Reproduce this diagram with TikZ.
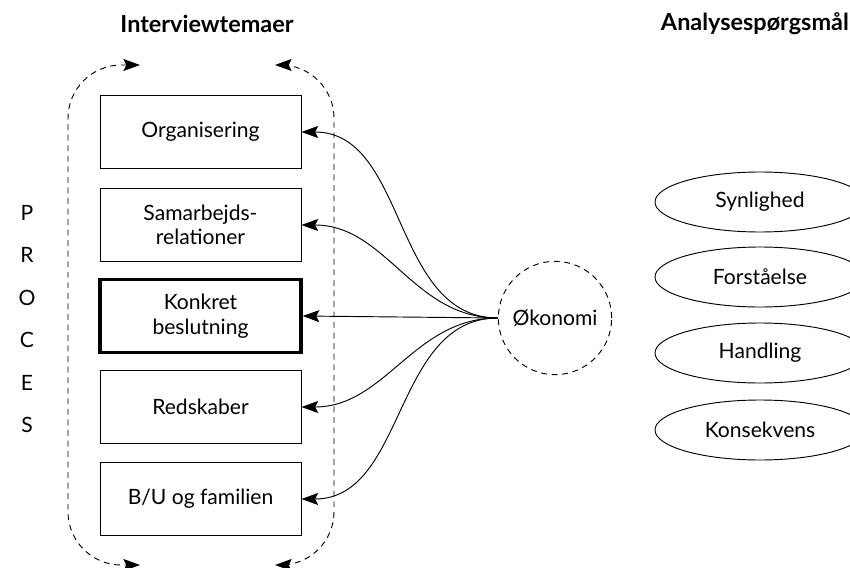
\documentclass[tikz,border=0pt]{standalone}
\usepackage{fontspec}
\setmainfont{Lato}
\usetikzlibrary{shapes,arrows.meta,positioning}

\begin{document}
\begin{tikzpicture}[
                x=0.03cm, y=-0.03cm,
                tema/.style={
                    draw,
                    line width=0.8pt,
                    minimum width=6.03cm,
                    minimum height=2.2cm,
                    align=center,
                    font=\fontsize{18}{21}\selectfont
                },
                sporg/.style={
                    draw,
                    ellipse,
                    line width=0.8pt,
                    minimum width=6.3cm,
                    minimum height=1.8cm,
                    font=\fontsize{18}{21}\selectfont
                },
                pil/.style={
                    line width=0.8pt,
                    -{Stealth[length=5mm,width=3.6mm,inset=0.9mm]}
                },
                kant/.style={
                    line width=0.8pt,
                    dash pattern=on 5pt off 4pt,
                    rounded corners=1.6cm,
                    {Stealth[length=5mm,width=3.6mm,inset=0.9mm]}-{Stealth[length=5mm,width=3.6mm,inset=0.9mm]}
                },
                overskrift/.style={
                    font=\fontsize{20}{24}\selectfont\bfseries
                }
            ]
                \useasboundingbox (0,0) rectangle (850,568);
                \clip (0,0) rectangle (850,568);

                \node[overskrift] (interview) at (207,24) {Interviewtemaer};
                \node[overskrift, anchor=east, inner sep=0pt] (analyse) at (849,24) {Analysespørgsmål};

                \node[tema] (org) at (200.5,132) {Organisering};
                \node[tema] (samarb) at (200.5,225) {Samarbejds-\\relationer};
                \node[tema, line width=2.8pt] (konkret) at (200.5,316) {Konkret\\beslutning};
                \node[tema] (redsk) at (200.5,407) {Redskaber};
                \node[tema] (familie) at (200.5,499) {B/U og familien};

                \coordinate (kvst) at (140,65);
                \coordinate (kvsb) at (140,565);
                \coordinate (khst) at (275,65);
                \coordinate (khsb) at (275,565);
                \draw[kant] (kvst) -- (68,65) -- (68,565) -- (kvsb);
                \draw[kant] (khst) -- (334,65) -- (334,565) -- (khsb);

                \foreach \bogstav [count=\i] in {P,R,O,C,E,S}
                    \node[font=\fontsize{18}{21}\selectfont] (proces\i) at (27,213+42.4*\i-42.4) {\bogstav};

                \node[
                    draw,
                    circle,
                    line width=0.8pt,
                    dash pattern=on 5pt off 4pt,
                    minimum size=3.4cm,
                    font=\fontsize{18}{21}\selectfont
                ] (okonomi) at (555,318) {Økonomi};

                \draw[pil] (okonomi.west) to[out=180,in=0] (org.east);
                \draw[pil] (okonomi.west) to[out=180,in=0] (samarb.east);
                \draw[pil] (okonomi.west) -- (konkret.east);
                \draw[pil] (okonomi.west) to[out=180,in=0] (redsk.east);
                \draw[pil] (okonomi.west) to[out=180,in=0] (familie.east);

                \node[sporg] (synlig) at (760,202) {Synlighed};
                \node[sporg] (forst) at (760,277) {Forståelse};
                \node[sporg] (handl) at (760,353) {Handling};
                \node[sporg] (konsek) at (760,430) {Konsekvens};

            \end{tikzpicture}
\end{document}
